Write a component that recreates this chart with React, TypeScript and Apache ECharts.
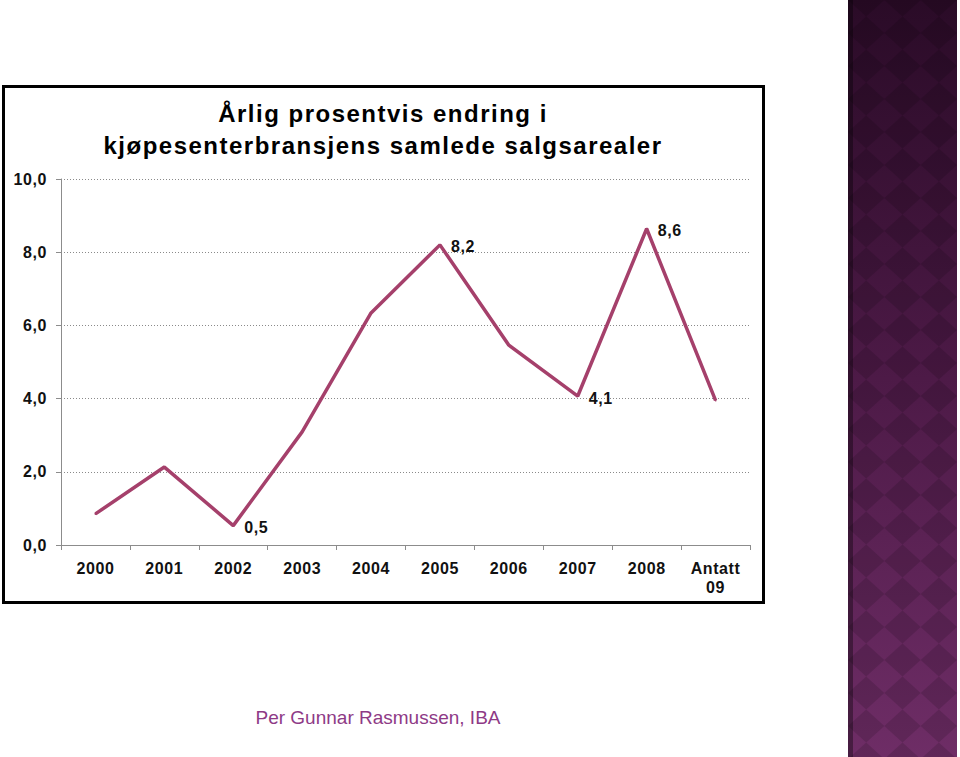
import React, { useEffect, useRef } from "react";
import * as echarts from "echarts";

const categories = ["2000", "2001", "2002", "2003", "2004", "2005", "2006", "2007", "2008", "Antatt\n09"];
const values = [0.85, 2.13, 0.53, 3.09, 6.34, 8.2, 5.46, 4.07, 8.64, 3.95];
const labelledIdx = [2, 5, 7, 8];
const titleText = "Årlig prosentvis endring i\nkjøpesenterbransjens samlede salgsarealer";
const footerText = "Per Gunnar Rasmussen, IBA";

const FONT = "'Liberation Sans', Arial, sans-serif";

function buildDecor() {
  const els: any[] = [];
  const x0 = 848, w = 109, h = 757;
  els.push({
    type: "rect",
    shape: { x: x0, y: 0, width: w, height: h },
    style: {
      fill: new echarts.graphic.LinearGradient(0, 0, 0, 1, [
        { offset: 0, color: "#2a0b27" },
        { offset: 0.5, color: "#4d1a47" },
        { offset: 1, color: "#6e2d66" },
      ]),
    },
    silent: true,
  });
  const sx = w / 3;
  const sy = 33;
  for (let row = 0; row * (sy / 2) < h + sy; row += 2) {
    const cy = row * (sy / 2);
    for (let col = 0; col < 3; col++) {
      const cx = x0 + sx / 2 + col * sx;
      els.push({
        type: "polygon",
        shape: {
          points: [
            [cx, cy - sy / 2],
            [cx + sx / 2, cy],
            [cx, cy + sy / 2],
            [cx - sx / 2, cy],
          ],
        },
        style: { fill: "rgba(0,0,0,0.13)" },
        silent: true,
      });
    }
  }
  els.push({
    type: "rect",
    shape: { x: x0, y: 0, width: 5, height: h },
    style: { fill: "rgba(0,0,0,0.35)" },
    silent: true,
  });
  return els;
}

const labelFmt = (p: any) => Number(p.value).toFixed(1).replace(".", ",");

export default function App() {
  const ref = useRef<HTMLDivElement>(null);
  useEffect(() => {
    document.body.style.margin = "0";
    const chart = echarts.init(ref.current!, null, { renderer: "svg" });
    const applySpacing = () => {
      const root = ref.current;
      if (!root) return;
      root.querySelectorAll("text").forEach((t) => {
        const fs = parseFloat(getComputedStyle(t).fontSize);
        if (fs >= 23) (t as any).style.letterSpacing = "1.5px";
        else if (fs >= 15 && fs <= 17) (t as any).style.letterSpacing = "0.6px";
      });
    };
    chart.on("finished", applySpacing);
    chart.setOption({
      animation: false,
      backgroundColor: "#ffffff",
      grid: { left: 61, right: 210, top: 179, bottom: 212, containLabel: false },
      xAxis: {
        type: "category",
        data: categories,
        boundaryGap: true,
        axisLine: { lineStyle: { color: "#8c8c8c", width: 1 } },
        axisTick: { show: true, length: 5, lineStyle: { color: "#8c8c8c" } },
        axisLabel: {
          color: "#111",
          fontFamily: FONT,
          fontWeight: "bold",
          fontSize: 16,
          margin: 14,
          lineHeight: 19,
          interval: 0,
        },
      },
      yAxis: {
        type: "value",
        min: 0,
        max: 10,
        interval: 2,
        axisLine: { show: true, lineStyle: { color: "#8c8c8c", width: 1 } },
        axisTick: { show: true, length: 5, lineStyle: { color: "#8c8c8c" } },
        axisLabel: {
          color: "#111",
          fontFamily: FONT,
          fontWeight: "bold",
          fontSize: 16,
          margin: 14,
          formatter: (v: number) => v.toFixed(1).replace(".", ","),
        },
        splitLine: { show: true, lineStyle: { color: "#8a8a8a", type: [1, 2], width: 1 } },
      },
      series: [
        {
          type: "line",
          data: values.map((v, i) => ({
            value: v,
            label: {
              show: labelledIdx.includes(i),
              position: "right",
              distance: 10,
              offset: [0, 2],
              formatter: labelFmt,
              color: "#111",
              fontFamily: FONT,
              fontWeight: "bold",
              fontSize: 16,
            },
          })),
          symbol: "circle",
          symbolSize: 2,
          showSymbol: true,
          itemStyle: { color: "#a5406b" },
          lineStyle: { color: "#a5406b", width: 3.5 },
          z: 3,
        },
      ],
      graphic: [
        ...buildDecor(),
        {
          type: "rect",
          shape: { x: 3.5, y: 86.5, width: 760, height: 516 },
          style: { fill: "none", stroke: "#000", lineWidth: 3 },
          silent: true,
        },
        {
          type: "text",
          x: 383,
          y: 129,
          style: {
            text: titleText,
            fill: "#000",
            font: `bold 24px ${FONT}`,
            textAlign: "center",
            textVerticalAlign: "middle",
            lineHeight: 32,
          },
        },
        {
          type: "text",
          x: 378,
          y: 717,
          style: {
            text: footerText,
            fill: "#8e3a86",
            font: `19px ${FONT}`,
            textAlign: "center",
            textVerticalAlign: "middle",
          },
        },
      ],
    });
    applySpacing();
    return () => chart.dispose();
  }, []);
  return <div ref={ref} style={{ width: 960, height: 757 }} />;
}
